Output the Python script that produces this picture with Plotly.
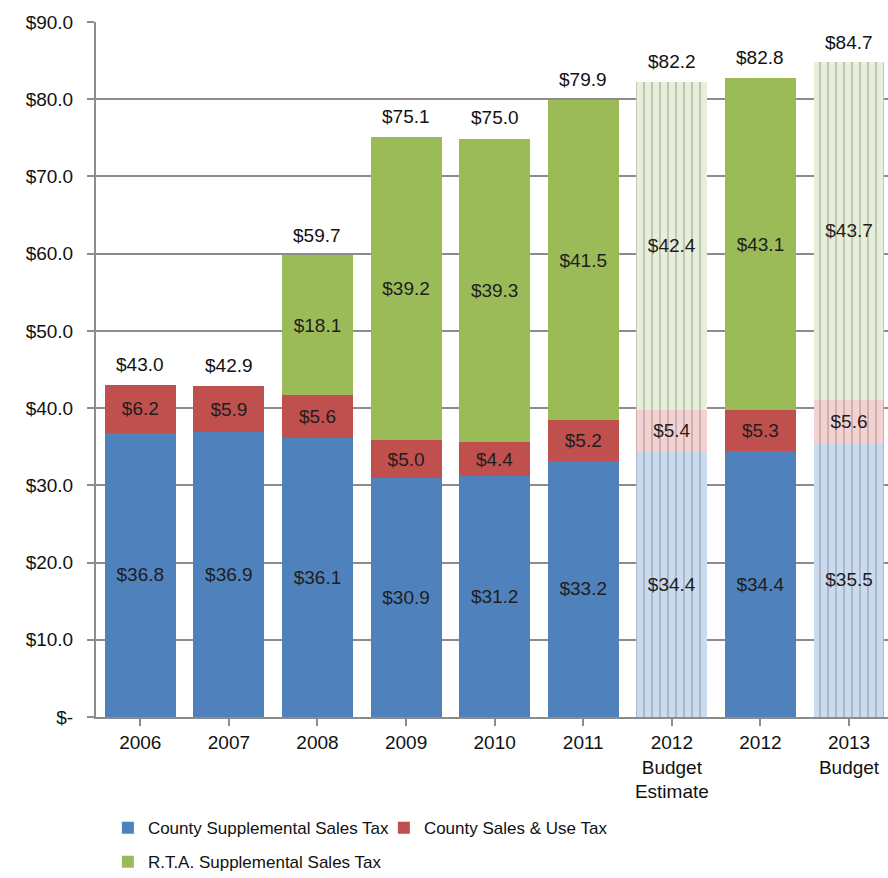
import plotly.graph_objects as go

# Sales tax revenue by source, $ millions
categories = ["2006", "2007", "2008", "2009", "2010", "2011",
              "2012<br>Budget<br>Estimate", "2012", "2013<br>Budget"]
county_supplemental = [36.8, 36.9, 36.1, 30.9, 31.2, 33.2, 34.4, 34.4, 35.5]
county_sales_use = [6.2, 5.9, 5.6, 5.0, 4.4, 5.2, 5.4, 5.3, 5.6]
rta_supplemental = [None, None, 18.1, 39.2, 39.3, 41.5, 42.4, 43.1, 43.7]
totals = [43.0, 42.9, 59.7, 75.1, 75.0, 79.9, 82.2, 82.8, 84.7]
is_budget = [False, False, False, False, False, False, True, False, True]

y_ticks = [0, 10, 20, 30, 40, 50, 60, 70, 80, 90]
y_ticktext = ["$-"] + ["${:.1f}".format(v) for v in y_ticks[1:]]

FONT = "Liberation Sans, Arial, sans-serif"
x = list(range(len(categories)))

series = [
    ("County Supplemental Sales Tax", county_supplemental, "#4f81bd", "#cadbf0", "#bacde7", "legend"),
    ("County Sales & Use Tax", county_sales_use, "#c0504d", "#f4d2d2", "#ebc4c4", "legend"),
    ("R.T.A. Supplemental Sales Tax", rta_supplemental, "#9bbb59", "#e6efd9", "#d8e4c6", "legend2"),
]

fig = go.Figure()
for name, vals, solid, pale, dots, leg in series:
    colors = [pale if b else solid for b in is_budget]
    shapes = ["|" if b else "" for b in is_budget]
    fig.add_trace(go.Bar(
        x=x, y=vals, name=name, legend=leg,
        width=0.8,
        marker=dict(
            color=colors,
            line=dict(width=0),
            pattern=dict(shape=shapes, fgcolor=dots, bgcolor=colors,
                         size=8, solidity=0.12, fillmode="overlay"),
        ),
        text=["${:.1f}".format(v) if v is not None else "" for v in vals],
        textposition="inside",
        insidetextanchor="middle",
        textangle=0,
        constraintext="none",
        insidetextfont=dict(family=FONT, size=19, color="#1e1e1e"),
        hoverinfo="skip",
    ))

# Totals above each stack
for xi, t in zip(x, totals):
    fig.add_annotation(
        x=xi, y=t, text="${:.1f}".format(t), showarrow=False,
        yanchor="bottom", yshift=8,
        font=dict(family=FONT, size=19, color="#111111"),
    )

legend_common = dict(
    orientation="h", xanchor="left", yanchor="top",
    entrywidthmode="pixels",
    font=dict(family=FONT, size=17, color="#111111"),
    itemwidth=30, traceorder="normal", bgcolor="rgba(0,0,0,0)",
)

fig.update_layout(
    barmode="stack",
    width=888, height=878,
    margin=dict(l=96, r=0, t=22, b=161, autoexpand=False),
    paper_bgcolor="white", plot_bgcolor="white",
    font=dict(family=FONT, size=19, color="#111111"),
    legend=dict(x=0.015, y=-0.134, entrywidth=231, **legend_common),
    legend2=dict(x=0.015, y=-0.183, entrywidth=300, **legend_common),
    showlegend=True,
)

fig.update_xaxes(
    tickmode="array", tickvals=x, ticktext=categories,
    range=[-0.5, 8.44],
    showline=True, linecolor="#8c8c8c", linewidth=2,
    ticks="outside", tickson="boundaries", ticklen=7, tickcolor="#8c8c8c", tickwidth=2,
    showgrid=False,
    tickfont=dict(family=FONT, size=19, color="#111111"),
)
fig.update_yaxes(
    range=[0, 90], tickmode="array", tickvals=y_ticks, ticktext=y_ticktext,
    showline=True, linecolor="#8c8c8c", linewidth=2,
    ticks="outside", ticklen=7, tickcolor="#8c8c8c", tickwidth=2,
    showgrid=True, gridcolor="#8c8c8c", gridwidth=2,
    zeroline=False,
    tickfont=dict(family=FONT, size=19, color="#111111"),
    ticklabelstandoff=10,
)

fig.write_html("out.html")
